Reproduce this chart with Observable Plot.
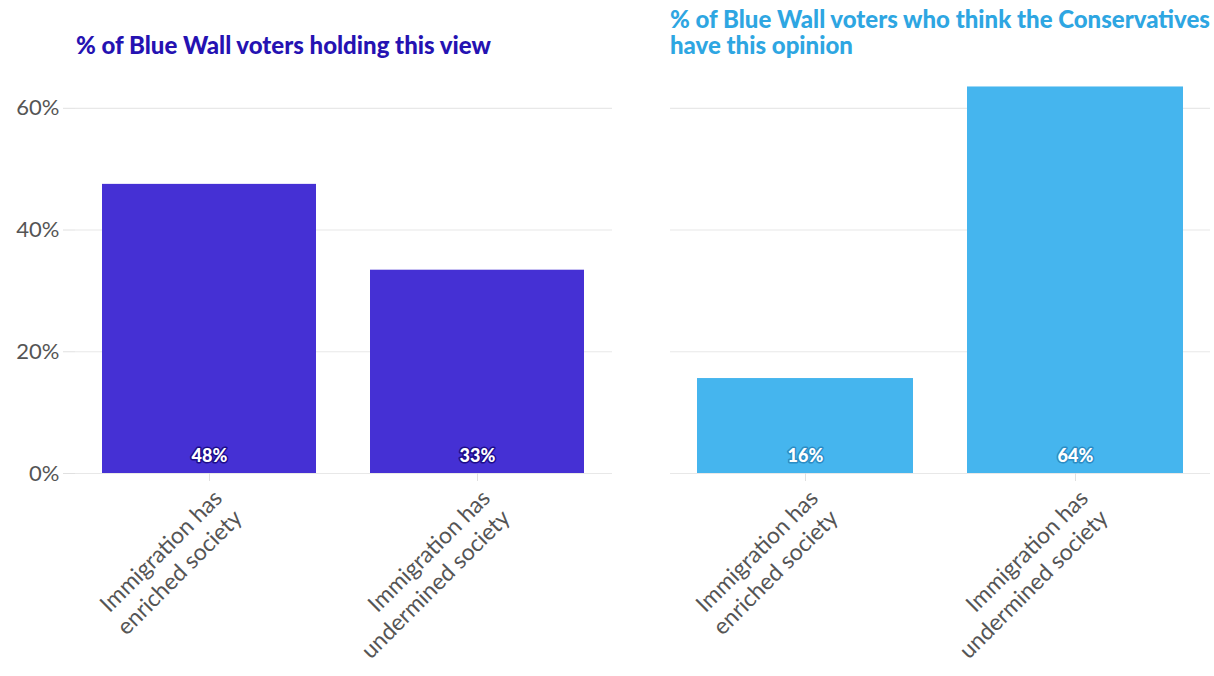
<!DOCTYPE html>
<html>
<head>
<meta charset="utf-8">
<script src="https://cdn.jsdelivr.net/npm/d3@7"></script>
<script src="https://cdn.jsdelivr.net/npm/@observablehq/plot@0.6"></script>
<style>
  html, body { margin: 0; padding: 0; background: #fff; }
  #wrap { position: relative; width: 1214px; height: 676px; overflow: hidden; font-family: Lato, "Open Sans", sans-serif; }
  .title { position: absolute; font-weight: 900; font-size: 24px; line-height: 26px; white-space: pre; }
  .panel { position: absolute; top: 60px; }
</style>
</head>
<body>
<div id="wrap"></div>
<script>
const categories = ["Immigration has\nenriched society", "Immigration has\nundermined society"];
const panelTitles = ["% of Blue Wall voters holding this view", "% of Blue Wall voters who think the Conservatives\nhave this opinion"];
const holdingView = [47.5, 33.4];
const thinkConservatives = [15.6, 63.5];
const labelsHolding = ["48%", "33%"];
const labelsConservatives = ["16%", "64%"];
const yTicks = [0, 20, 40, 60];
const barColors = ["#4530d4", "#45b5ee"];
const titleColors = ["#2512b2", "#2ea6e2"];
const outlineColors = ["#1c0c8a", "#2b8cc4"];

const wrap = document.getElementById("wrap");

function makePanel(values, labels, idx, opts) {
  const data = categories.map((c, i) => ({cat: c, v: values[i], lab: labels[i]}));
  const gridColor = "#e8e8e8";
  const marks = [
    Plot.gridY(yTicks, {stroke: gridColor, strokeOpacity: 1, strokeWidth: 1.2}),
    Plot.barY(data, {x: "cat", y: "v", fill: barColors[idx]}),
    Plot.text(data, {x: "cat", y: 0, text: "lab", dy: -17, fill: "white", stroke: outlineColors[idx], strokeWidth: 3, paintOrder: "stroke", fontWeight: 900, fontSize: 18}),
    Plot.axisX({
      tickSize: 8, stroke: "#e0e0e0", tickRotate: -45, textAnchor: "end", lineAnchor: "top",
      fontSize: 23, fill: "#555", tickPadding: 4, label: null, lineHeight: 1.22
    })
  ];
  if (opts.yAxis) {
    marks.push(Plot.axisY(yTicks, {tickSize: 12, stroke: "#e0e0e0", tickFormat: d => d + "%", fontSize: 22, fill: "#555", tickPadding: 4, label: null}));
    marks.push(Plot.ruleX([0], {frameAnchor: "left", stroke: "#e8e8e8", strokeWidth: 1.2}));
  }
  return Plot.plot({
    width: opts.width,
    height: 616,
    marginTop: 7,
    marginBottom: 203,
    marginLeft: opts.marginLeft,
    marginRight: opts.marginRight,
    style: {fontFamily: "Lato, 'Open Sans', sans-serif", background: "transparent", overflow: "visible"},
    x: {domain: categories, paddingInner: 0.2, paddingOuter: 0.1, axis: null},
    y: {domain: [0, 66.7], axis: null},
    marks
  });
}

const left = document.createElement("div");
left.className = "panel";
left.style.left = "0px";
left.appendChild(makePanel(holdingView, labelsHolding, 0, {width: 612, marginLeft: 75, marginRight: 0, yAxis: true}));
wrap.appendChild(left);

const right = document.createElement("div");
right.className = "panel";
right.style.left = "612px";
right.appendChild(makePanel(thinkConservatives, labelsConservatives, 1, {width: 602, marginLeft: 58, marginRight: 4, yAxis: false}));
wrap.appendChild(right);

const t1 = document.createElement("div");
t1.className = "title";
t1.style.left = "76px"; t1.style.top = "32px"; t1.style.color = titleColors[0];
t1.textContent = panelTitles[0];
wrap.appendChild(t1);

const t2 = document.createElement("div");
t2.className = "title";
t2.style.left = "670px"; t2.style.top = "6px"; t2.style.color = titleColors[1];
t2.textContent = panelTitles[1];
wrap.appendChild(t2);
</script>
</body>
</html>
